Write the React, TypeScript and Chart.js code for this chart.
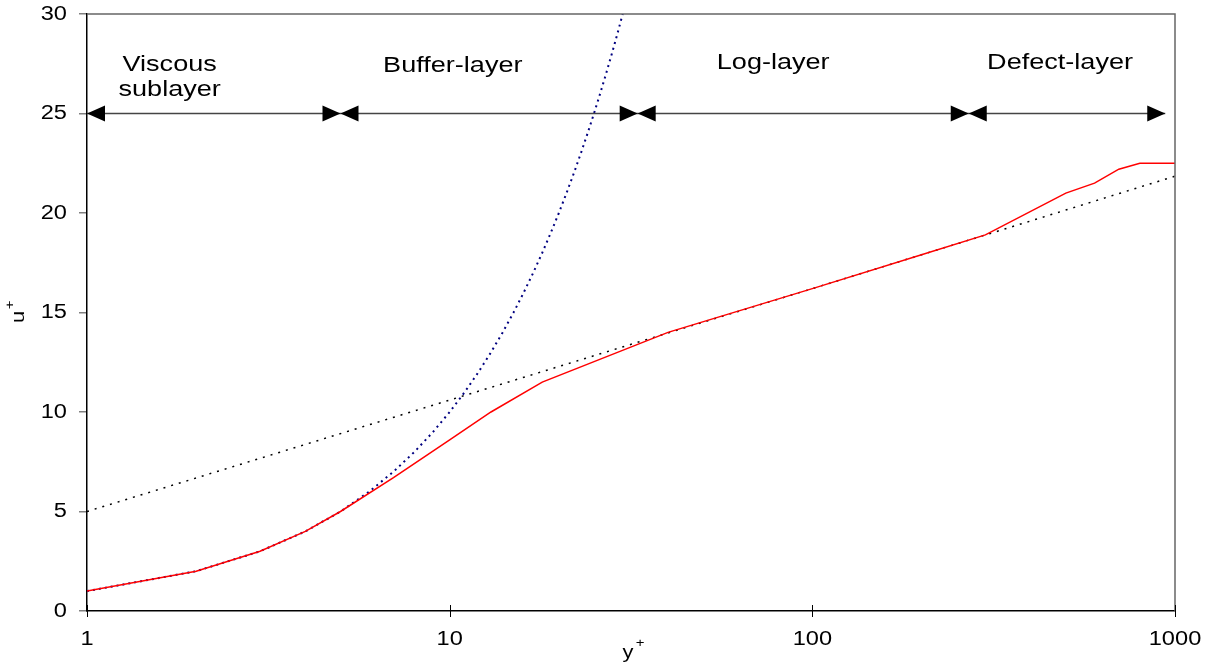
import React, { useEffect, useRef } from "react";
import { Chart, registerables } from "chart.js";

Chart.register(...registerables);

// Measured velocity profile (red)
const yPlusProfile = [1, 2, 3, 4, 5, 7, 10, 13, 18, 40, 100, 200, 300, 500, 600, 700, 800, 1000];
const uPlusProfile = [1, 2, 3, 4, 5, 6.7, 8.6, 10, 11.5, 14, 16.2, 17.9, 18.9, 21, 21.5, 22.2, 22.5, 22.5];

// Viscous sublayer law u+ = y+ (blue dotted)
const yPlusViscous = [1, 2, 3, 4, 5, 6, 7, 8, 9, 10, 11, 12, 13, 14, 15, 16, 17, 18, 19, 20, 21, 22, 23, 24, 25, 26, 27, 28, 29, 30, 31];
const uPlusViscous = [1, 2, 3, 4, 5, 6, 7, 8, 9, 10, 11, 12, 13, 14, 15, 16, 17, 18, 19, 20, 21, 22, 23, 24, 25, 26, 27, 28, 29, 30, 31];

// Log law (black dotted)
const yPlusLog = [1, 10, 100, 1000];
const uPlusLog = [5, 10.6, 16.2, 21.85];

// Axis ticks
const xTickValues = [1, 10, 100, 1000];
const xTickLabels = ["1", "10", "100", "1000"];
const yTickValues = [0, 5, 10, 15, 20, 25, 30];

// Region arrows at u+ = 25
const regionBounds = [1, 5, 33, 270, 940];
const arrowLevel = 25;

// Region labels
const regionLabels = ["Viscous", "sublayer", "Buffer-layer", "Log-layer", "Defect-layer"];
const regionLabelX = [1.69, 1.69, 10.2, 78, 482];
const regionLabelY = [27.45, 26.2, 27.4, 27.55, 27.55];

const FONT = "'Liberation Sans', Arial, sans-serif";

function stretchText(ctx: CanvasRenderingContext2D, text: string, x: number, y: number, align: CanvasTextAlign, sx: number) {
  ctx.save();
  ctx.translate(x, y);
  ctx.scale(sx, 1);
  ctx.textAlign = align;
  ctx.fillText(text, 0, 0);
  ctx.restore();
}

const overlayPlugin = {
  id: "overlay",
  afterDraw(chart: any) {
    const ctx: CanvasRenderingContext2D = chart.ctx;
    const xs = chart.scales.x;
    const ys = chart.scales.y;
    const { left, right, top, bottom } = chart.chartArea;
    ctx.save();

    // top and right frame
    ctx.strokeStyle = "#666666";
    ctx.lineWidth = 1.5;
    ctx.beginPath();
    ctx.moveTo(left, top);
    ctx.lineTo(right, top);
    ctx.lineTo(right, bottom);
    ctx.stroke();

    // x tick marks crossing the axis
    ctx.strokeStyle = "#000";
    ctx.lineWidth = 1;
    xTickValues.forEach((v) => {
      const px = Math.round(xs.getPixelForValue(v)) + 0.5;
      ctx.beginPath();
      ctx.moveTo(px, bottom - 6);
      ctx.lineTo(px, bottom + 6);
      ctx.stroke();
    });

    // tick labels
    ctx.fillStyle = "#000";
    ctx.font = `20px ${FONT}`;
    ctx.textBaseline = "middle";
    yTickValues.forEach((v) => {
      stretchText(ctx, String(v), 67, ys.getPixelForValue(v), "right", 1.18);
    });
    xTickValues.forEach((v, i) => {
      stretchText(ctx, xTickLabels[i], xs.getPixelForValue(v), 639, "center", 1.18);
    });

    // axis titles
    ctx.font = `19px ${FONT}`;
    ctx.textBaseline = "alphabetic";
    stretchText(ctx, "y", 628, 658, "center", 1.15);
    ctx.font = `13px ${FONT}`;
    stretchText(ctx, "+", 640, 647, "center", 1.15);
    ctx.save();
    ctx.translate(24, 317);
    ctx.rotate(-Math.PI / 2);
    ctx.font = `19px ${FONT}`;
    stretchText(ctx, "u", 0, 0, "center", 1.15);
    ctx.font = `13px ${FONT}`;
    stretchText(ctx, "+", 12, -10, "center", 1.15);
    ctx.restore();

    // region arrows
    const ay = Math.round(ys.getPixelForValue(arrowLevel)) + 0.5;
    ctx.strokeStyle = "#444444";
    ctx.lineWidth = 1.5;
    ctx.beginPath();
    ctx.moveTo(xs.getPixelForValue(regionBounds[0]), ay);
    ctx.lineTo(xs.getPixelForValue(regionBounds[regionBounds.length - 1]), ay);
    ctx.stroke();
    ctx.fillStyle = "#000";
    const headL = 18;
    const headH = 8;
    for (let i = 0; i < regionBounds.length - 1; i++) {
      const x0 = xs.getPixelForValue(regionBounds[i]);
      const x1 = xs.getPixelForValue(regionBounds[i + 1]);
      ctx.beginPath();
      ctx.moveTo(x0, ay);
      ctx.lineTo(x0 + headL, ay - headH);
      ctx.lineTo(x0 + headL, ay + headH);
      ctx.closePath();
      ctx.fill();
      ctx.beginPath();
      ctx.moveTo(x1, ay);
      ctx.lineTo(x1 - headL, ay - headH);
      ctx.lineTo(x1 - headL, ay + headH);
      ctx.closePath();
      ctx.fill();
    }

    // region labels
    ctx.font = `22px ${FONT}`;
    ctx.textBaseline = "middle";
    regionLabels.forEach((t, i) => {
      stretchText(ctx, t, xs.getPixelForValue(regionLabelX[i]), ys.getPixelForValue(regionLabelY[i]), "center", 1.23);
    });

    ctx.restore();
  },
};

export default function App() {
  const canvasRef = useRef<HTMLCanvasElement>(null);

  useEffect(() => {
    document.body.style.margin = "0";
    const canvas = canvasRef.current;
    if (!canvas) return;
    const toXY = (xs: number[], ys: number[]) => xs.map((x, i) => ({ x, y: ys[i] }));
    const chart = new Chart(canvas, {
      type: "line",
      data: {
        datasets: [
          {
            label: "Profile",
            data: toXY(yPlusProfile, uPlusProfile),
            borderColor: "#ff0000",
            borderWidth: 1.5,
            pointRadius: 0,
            tension: 0,
          },
          {
            label: "u+ = y+",
            data: toXY(yPlusViscous, uPlusViscous),
            borderColor: "#000080",
            borderWidth: 2,
            borderDash: [2, 4],
            pointRadius: 0,
            tension: 0,
          },
          {
            label: "Log law",
            data: toXY(yPlusLog, uPlusLog),
            borderColor: "#000000",
            borderWidth: 1.5,
            borderDash: [2, 6],
            pointRadius: 0,
            tension: 0,
          },
        ],
      },
      options: {
        responsive: false,
        animation: false,
        events: [],
        layout: { padding: { top: 14, right: 35, left: 0, bottom: 0 } },
        plugins: { legend: { display: false }, tooltip: { enabled: false } },
        scales: {
          x: {
            type: "logarithmic",
            min: 1,
            max: 1000,
            afterBuildTicks: (scale: any) => {
              scale.ticks = xTickValues.map((v) => ({ value: v }));
            },
            afterFit: (scale: any) => {
              scale.height = 53;
            },
            ticks: { display: false },
            grid: { display: false },
            border: { display: true, color: "#000", width: 1.5 },
          },
          y: {
            type: "linear",
            min: 0,
            max: 30,
            afterBuildTicks: (scale: any) => {
              scale.ticks = yTickValues.map((v) => ({ value: v }));
            },
            afterFit: (scale: any) => {
              scale.width = 87;
            },
            ticks: { display: false },
            grid: { display: true, drawOnChartArea: false, drawTicks: true, tickLength: 8, color: "#808080", lineWidth: 1.5 },
            border: { display: true, color: "#000", width: 1.5 },
          },
        },
      },
      plugins: [overlayPlugin],
    });
    return () => chart.destroy();
  }, []);

  return (
    <div style={{ position: "absolute", left: 0, top: 0, width: 1210, height: 664, background: "#fff" }}>
      <canvas ref={canvasRef} width={1210} height={664} />
    </div>
  );
}
